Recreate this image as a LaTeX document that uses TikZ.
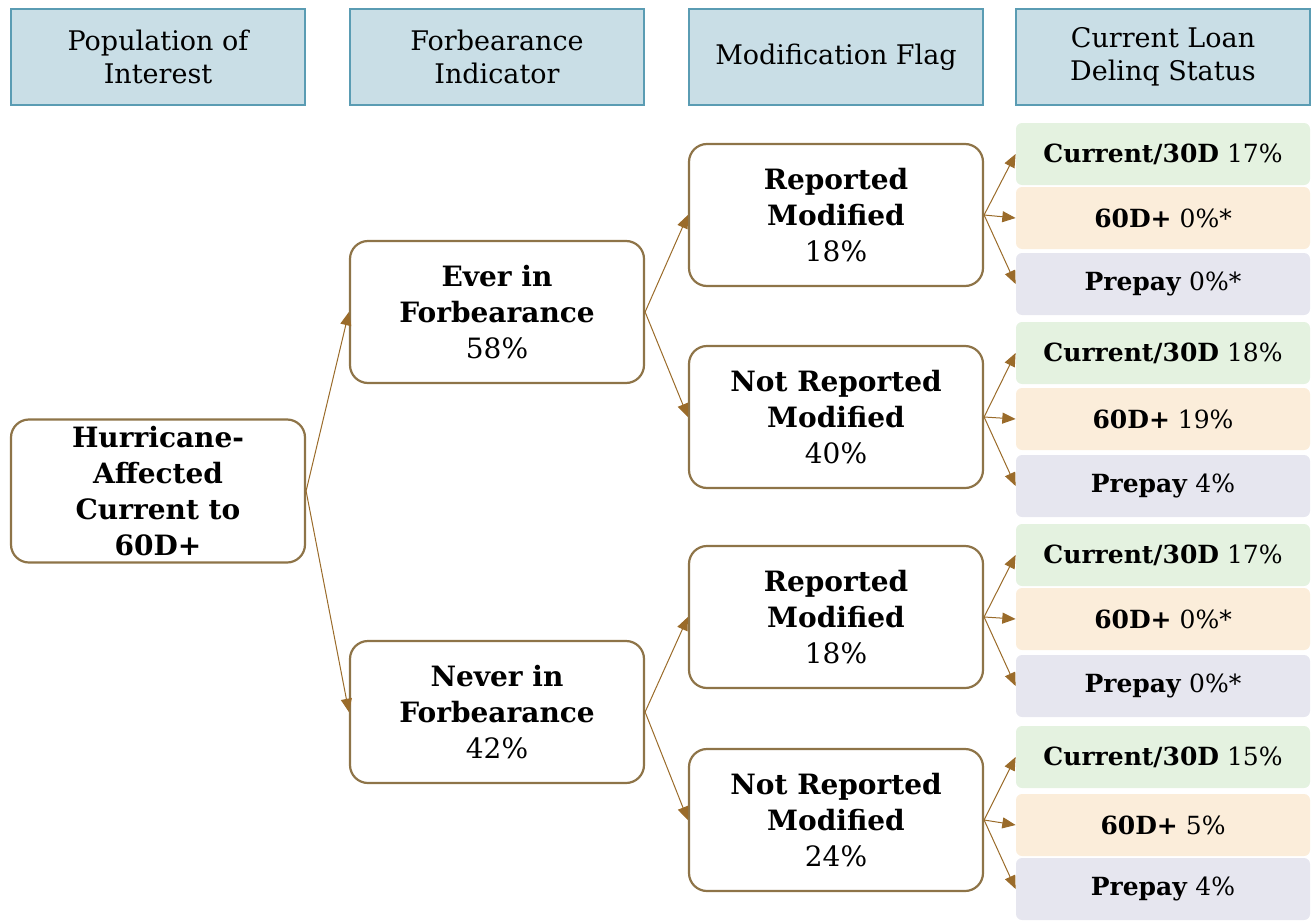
\documentclass[tikz,border=0pt]{standalone}
\usepackage{fontspec}
\setmainfont{DejaVu Serif}
\usetikzlibrary{arrows}

\definecolor{hdrfill}{HTML}{C9DEE6}
\definecolor{hdrline}{HTML}{5A9CB3}
\definecolor{boxline}{HTML}{8E7448}
\definecolor{arrline}{HTML}{9A6B2A}
\definecolor{curfill}{HTML}{E4F2E0}
\definecolor{dlqfill}{HTML}{FBEDDA}
\definecolor{prefill}{HTML}{E6E6EF}

\tikzset{
  hdr/.style={draw=hdrline, fill=hdrfill, line width=1.2pt, minimum width=147pt,
    minimum height=48pt, align=center, font=\fontsize{13.5}{16.5}\selectfont},
  box/.style={draw=boxline, fill=white, rounded corners=9pt, line width=1.1pt,
    minimum width=147pt, minimum height=71pt, align=center,
    font=\bfseries\fontsize{14}{18}\selectfont},
  leaf/.style={rounded corners=3pt, minimum width=147pt, minimum height=31pt,
    inner sep=1pt, font=\fontsize{12.5}{14}\selectfont},
  cur/.style={leaf, fill=curfill},
  dlq/.style={leaf, fill=dlqfill},
  pre/.style={leaf, fill=prefill},
  link/.style={draw=arrline, line width=0.5pt, -triangle 45}
}

\begin{document}
\begin{tikzpicture}[x=0.5pt, y=-0.5pt]

  \useasboundingbox (0,0) rectangle (1312,921);

  % column headers
  \node[hdr] (hpop) at (158,57) {Population of\\Interest};
  \node[hdr] (hfor) at (497,57) {Forbearance\\Indicator};
  \node[hdr] (hmod) at (836,57) {Modification Flag};
  \node[hdr] (hdlq) at (1163,57) {Current Loan\\Delinq Status};

  % tree boxes
  \node[box] (root) at (158,491) {Hurricane-\\Affected\\Current to\\60D+};
  \node[box] (ever) at (497,312) {Ever in\\Forbearance\\{\mdseries 58\%}};
  \node[box] (never) at (497,712) {Never in\\Forbearance\\{\mdseries 42\%}};
  \node[box] (rmA) at (836,215) {Reported\\Modified\\{\mdseries 18\%}};
  \node[box] (nrmA) at (836,417) {Not Reported\\Modified\\{\mdseries 40\%}};
  \node[box] (rmB) at (836,617) {Reported\\Modified\\{\mdseries 18\%}};
  \node[box] (nrmB) at (836,820) {Not Reported\\Modified\\{\mdseries 24\%}};

  % delinquency status leaves
  \node[cur] (curA) at (1163,154) {\textbf{Current/30D} 17\%};
  \node[dlq] (dlqA) at (1163,218) {\textbf{60D+} 0\%*};
  \node[pre] (preA) at (1163,284) {\textbf{Prepay} 0\%*};
  \node[cur] (curB) at (1163,353) {\textbf{Current/30D} 18\%};
  \node[dlq] (dlqB) at (1163,419) {\textbf{60D+} 19\%};
  \node[pre] (preB) at (1163,486) {\textbf{Prepay} 4\%};
  \node[cur] (curC) at (1163,555) {\textbf{Current/30D} 17\%};
  \node[dlq] (dlqC) at (1163,619) {\textbf{60D+} 0\%*};
  \node[pre] (preC) at (1163,686) {\textbf{Prepay} 0\%*};
  \node[cur] (curD) at (1163,757) {\textbf{Current/30D} 15\%};
  \node[dlq] (dlqD) at (1163,825) {\textbf{60D+} 5\%};
  \node[pre] (preD) at (1163,889) {\textbf{Prepay} 4\%};

  % connectors
  \draw[link] (root.east) -- (ever.west);
  \draw[link] (root.east) -- (never.west);
  \draw[link] (ever.east) -- (rmA.west);
  \draw[link] (ever.east) -- (nrmA.west);
  \draw[link] (never.east) -- (rmB.west);
  \draw[link] (never.east) -- (nrmB.west);

  \draw[link] (rmA.east) -- (curA.west);
  \draw[link] (rmA.east) -- (dlqA.west);
  \draw[link] (rmA.east) -- (preA.west);
  \draw[link] (nrmA.east) -- (curB.west);
  \draw[link] (nrmA.east) -- (dlqB.west);
  \draw[link] (nrmA.east) -- (preB.west);
  \draw[link] (rmB.east) -- (curC.west);
  \draw[link] (rmB.east) -- (dlqC.west);
  \draw[link] (rmB.east) -- (preC.west);
  \draw[link] (nrmB.east) -- (curD.west);
  \draw[link] (nrmB.east) -- (dlqD.west);
  \draw[link] (nrmB.east) -- (preD.west);

\end{tikzpicture}
\end{document}
